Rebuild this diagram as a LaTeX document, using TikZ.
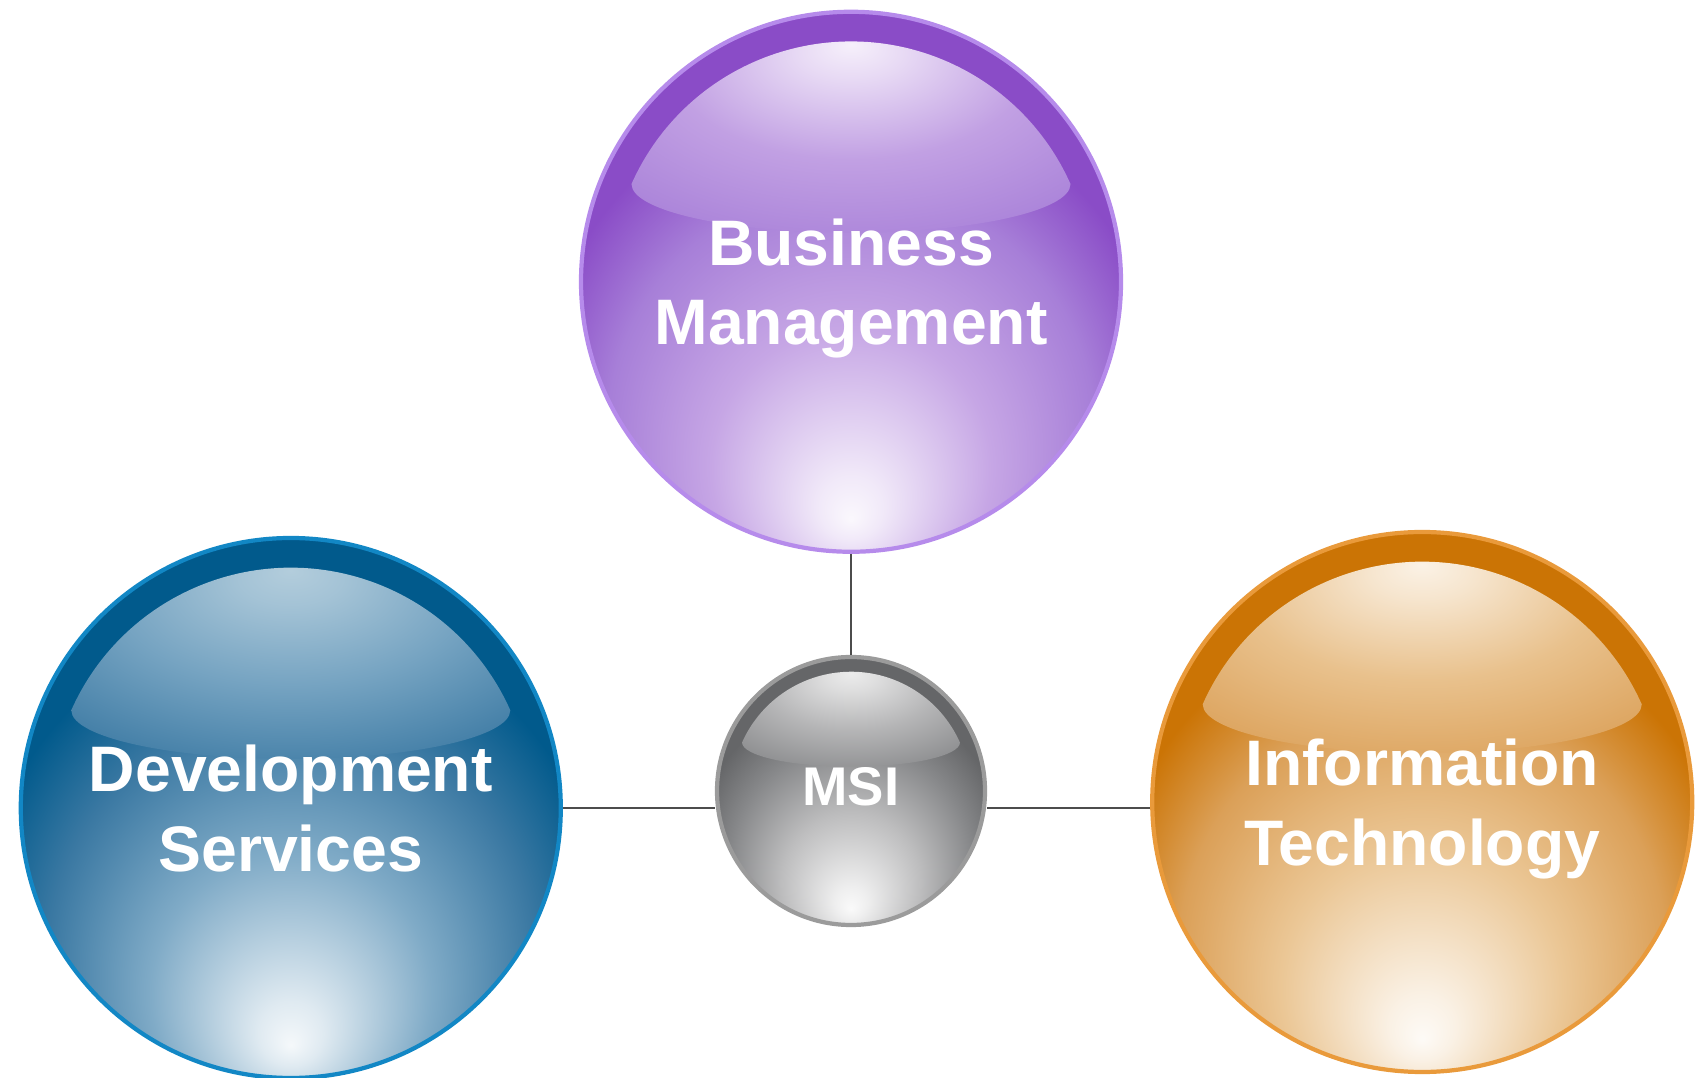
\documentclass[tikz,border=0pt]{standalone}
\usepackage{fontspec}
\setmainfont{Liberation Sans}
\usepackage{tikz}
\usetikzlibrary{positioning}
\definecolor{balldark}{HTML}{8A4CC7}
\definecolor{ballmid}{HTML}{A77FD8}
\definecolor{balllight}{HTML}{C6A6E5}
\definecolor{ballrim}{HTML}{B68BEB}
\definecolor{balltop}{HTML}{F6F0FB}
\pgfdeclareradialshading[balldark,ballmid,balllight]{glowshade}{\pgfpoint{0bp}{-22bp}}{%
  color(0bp)=(white!92!balllight); color(3bp)=(white!75!balllight); color(7bp)=(white!45!balllight);
  color(13bp)=(balllight); color(22.5bp)=(ballmid); color(29bp)=(balldark); color(60bp)=(balldark)}
\pgfdeclareradialshading[balldark,ballmid,balllight,balltop]{domeshade}{\pgfpoint{0bp}{17bp}}{%
  color(0bp)=(balltop); color(6bp)=(balltop!70!balllight); color(20bp)=(balllight!85!ballmid);
  color(38bp)=(ballmid); color(60bp)=(ballmid)}
\tikzset{ballcolors/.code n args={5}{%
  \definecolor{balldark}{HTML}{#1}\definecolor{ballmid}{HTML}{#2}%
  \definecolor{balllight}{HTML}{#3}\definecolor{ballrim}{HTML}{#4}%
  \definecolor{balltop}{HTML}{#5}}}
\newcommand{\dome}[3]{%
  \shade[#3, shading=domeshade, shift={(#1.center)}, scale=#2]
    (156:0.89) arc[start angle=156, end angle=24, radius=0.89]
    arc[start angle=0, end angle=-180, x radius=0.813, y radius=0.18] -- cycle;}
\newcommand{\nodepth}[1]{\raisebox{0pt}[\height][0pt]{#1}}
\tikzstyle{sphere} = [circle, draw=ballrim, line width=1.2pt, inner sep=0pt,
    shading=glowshade]
\tikzstyle{big} = [minimum size=5.4cm]
\tikzstyle{small} = [minimum size=2.68cm]
\tikzstyle{balltext} = [text=white, align=center,
    font=\bfseries\fontsize{18.3}{22.6}\selectfont]
\tikzstyle{smalltext} = [balltext, font=\bfseries\fontsize{15.5}{18}\selectfont,
    text depth=2.6pt]
\tikzstyle{purpleball} = [ballcolors={8A4CC7}{A77FD8}{C6A6E5}{B68BEB}{F6F0FB}]
\tikzstyle{blueball} = [ballcolors={015A8C}{3A78A2}{80ABC7}{1287C5}{B3CDDC}]
\tikzstyle{orangeball} = [ballcolors={CB7405}{DBA058}{EBC796}{E99A3B}{FBF2E6}]
\tikzstyle{grayball} = [ballcolors={656668}{87888A}{BDBDBE}{9B9B9B}{ECECEC}]
\tikzstyle{connector} = [line width=0.6pt, black!70]

\begin{document}
\begin{tikzpicture}
	\useasboundingbox (0,0) rectangle (17.06,-10.78);
	\node[grayball, sphere, small] (msi) at (8.51,-7.91) {};
	\node[purpleball, sphere, big, above=1.01 of msi] (bm) {};
	\node[blueball, sphere, big, left=1.52 of msi, yshift=-1.7mm] (ds) {};
	\node[orangeball, sphere, big, right=1.63 of msi, yshift=-1.1mm] (it) {};
	
	\dome{msi}{1.34}{grayball}
	\dome{bm}{2.7}{purpleball}
	\dome{ds}{2.7}{blueball}
	\dome{it}{2.7}{orangeball}
	
	\node[smalltext] (msi text) at (msi) {MSI};
	\node[balltext] (bm text) at (bm) {Business\\\nodepth{Management}};
	\node[balltext] (ds text) at (ds) {Development\\\nodepth{Services}};
	\node[balltext] (it text) at (it) {Information\\\nodepth{Technology}};
	
	\draw[connector] (bm) to (msi);
	\draw[connector] (ds.east) to (ds.east -| msi.west);
	\draw[connector] (msi.east |- ds.east) to (it.west |- ds.east);
\end{tikzpicture}
\end{document}
